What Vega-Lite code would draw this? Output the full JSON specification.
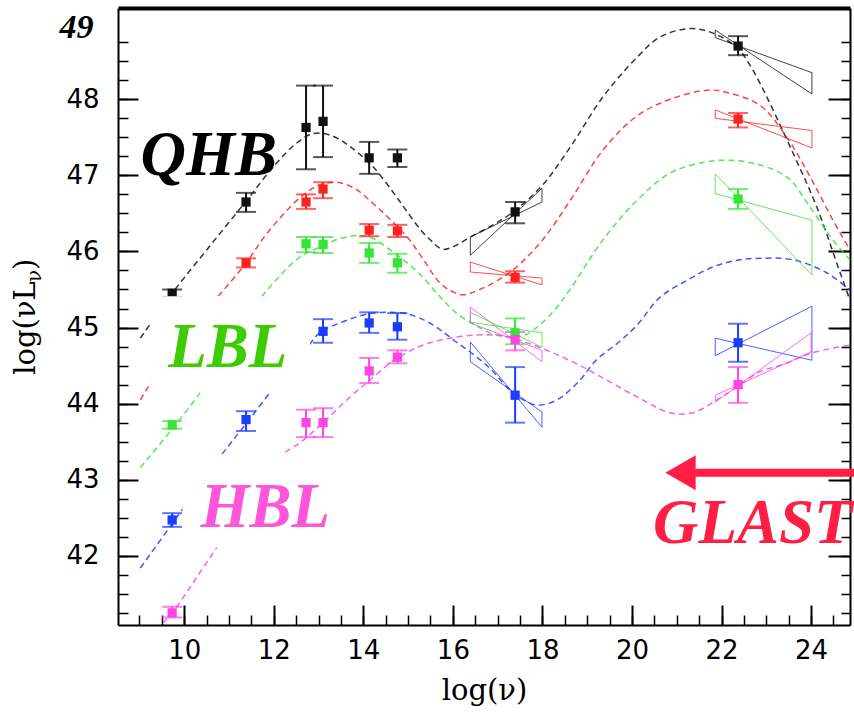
{
  "$schema": "https://vega.github.io/schema/vega-lite/v6.json",
  "width": 732,
  "height": 617,
  "autosize": "none",
  "padding": {"left": 118, "top": 8, "right": 4, "bottom": 87},
  "background": "white",
  "config": {"view": {"stroke": null}, "axis": {"grid": false}},
  "datasets": {
    "curves": [
      {"s": "black", "x": 9.02, "y": 44.86}, {"s": "black", "x": 9.73, "y": 45.45}, {"s": "black", "x": 10.5, "y": 46.02},
      {"s": "black", "x": 11.38, "y": 46.66}, {"s": "black", "x": 12.0, "y": 47.12}, {"s": "black", "x": 12.5, "y": 47.42},
      {"s": "black", "x": 12.88, "y": 47.55}, {"s": "black", "x": 13.3, "y": 47.52}, {"s": "black", "x": 13.7, "y": 47.38},
      {"s": "black", "x": 14.22, "y": 47.11}, {"s": "black", "x": 14.7, "y": 46.75}, {"s": "black", "x": 14.98, "y": 46.52},
      {"s": "black", "x": 15.3, "y": 46.27}, {"s": "black", "x": 15.5, "y": 46.15}, {"s": "black", "x": 15.76, "y": 46.03},
      {"s": "black", "x": 16.0, "y": 46.06}, {"s": "black", "x": 16.39, "y": 46.19}, {"s": "black", "x": 16.9, "y": 46.35},
      {"s": "black", "x": 17.39, "y": 46.54}, {"s": "black", "x": 18.0, "y": 46.87}, {"s": "black", "x": 18.62, "y": 47.37},
      {"s": "black", "x": 19.35, "y": 48.03}, {"s": "black", "x": 20.11, "y": 48.55}, {"s": "black", "x": 20.63, "y": 48.82},
      {"s": "black", "x": 21.3, "y": 48.93}, {"s": "black", "x": 21.81, "y": 48.87}, {"s": "black", "x": 22.37, "y": 48.67},
      {"s": "black", "x": 22.57, "y": 48.51}, {"s": "black", "x": 22.86, "y": 48.21}, {"s": "black", "x": 23.6, "y": 47.29},
      {"s": "black", "x": 24.13, "y": 46.58}, {"s": "black", "x": 24.65, "y": 45.72}, {"s": "black", "x": 24.87, "y": 45.36},

      {"s": "red", "x": 9.02, "y": 44.05}, {"s": "red", "x": 10.0, "y": 44.95}, {"s": "red", "x": 10.74, "y": 45.4},
      {"s": "red", "x": 11.38, "y": 45.85}, {"s": "red", "x": 11.85, "y": 46.24}, {"s": "red", "x": 12.59, "y": 46.71},
      {"s": "red", "x": 13.0, "y": 46.87}, {"s": "red", "x": 13.4, "y": 46.91}, {"s": "red", "x": 13.8, "y": 46.83},
      {"s": "red", "x": 14.22, "y": 46.63}, {"s": "red", "x": 14.6, "y": 46.42}, {"s": "red", "x": 14.98, "y": 46.19},
      {"s": "red", "x": 15.3, "y": 45.93}, {"s": "red", "x": 15.72, "y": 45.58}, {"s": "red", "x": 16.0, "y": 45.47},
      {"s": "red", "x": 16.23, "y": 45.43}, {"s": "red", "x": 16.6, "y": 45.5}, {"s": "red", "x": 17.0, "y": 45.62},
      {"s": "red", "x": 17.39, "y": 45.78}, {"s": "red", "x": 18.0, "y": 46.15}, {"s": "red", "x": 18.62, "y": 46.67},
      {"s": "red", "x": 19.35, "y": 47.33}, {"s": "red", "x": 20.11, "y": 47.78}, {"s": "red", "x": 20.85, "y": 48.0},
      {"s": "red", "x": 21.68, "y": 48.12}, {"s": "red", "x": 22.12, "y": 48.09}, {"s": "red", "x": 22.86, "y": 47.92},
      {"s": "red", "x": 23.46, "y": 47.5}, {"s": "red", "x": 23.98, "y": 46.98}, {"s": "red", "x": 24.49, "y": 46.41},
      {"s": "red", "x": 24.87, "y": 46.02},

      {"s": "green", "x": 9.02, "y": 43.16}, {"s": "green", "x": 10.36, "y": 44.15}, {"s": "green", "x": 11.0, "y": 44.8},
      {"s": "green", "x": 11.85, "y": 45.49}, {"s": "green", "x": 12.59, "y": 45.93}, {"s": "green", "x": 13.04, "y": 46.06},
      {"s": "green", "x": 13.48, "y": 46.17}, {"s": "green", "x": 13.93, "y": 46.21}, {"s": "green", "x": 14.22, "y": 46.17},
      {"s": "green", "x": 14.6, "y": 46.02}, {"s": "green", "x": 14.98, "y": 45.85}, {"s": "green", "x": 15.3, "y": 45.68},
      {"s": "green", "x": 15.72, "y": 45.4}, {"s": "green", "x": 16.1, "y": 45.18}, {"s": "green", "x": 16.45, "y": 45.05},
      {"s": "green", "x": 16.83, "y": 44.93}, {"s": "green", "x": 17.2, "y": 44.88}, {"s": "green", "x": 17.6, "y": 44.9},
      {"s": "green", "x": 17.95, "y": 45.04}, {"s": "green", "x": 18.3, "y": 45.25}, {"s": "green", "x": 18.65, "y": 45.53},
      {"s": "green", "x": 19.35, "y": 46.15}, {"s": "green", "x": 20.11, "y": 46.67}, {"s": "green", "x": 20.85, "y": 47.03},
      {"s": "green", "x": 21.59, "y": 47.17}, {"s": "green", "x": 22.12, "y": 47.2}, {"s": "green", "x": 22.7, "y": 47.16},
      {"s": "green", "x": 23.46, "y": 46.98}, {"s": "green", "x": 23.98, "y": 46.58}, {"s": "green", "x": 24.49, "y": 46.15},
      {"s": "green", "x": 24.87, "y": 45.89},

      {"s": "blue", "x": 9.02, "y": 41.84}, {"s": "blue", "x": 9.9, "y": 42.56}, {"s": "blue", "x": 10.8, "y": 43.3},
      {"s": "blue", "x": 11.4, "y": 43.75}, {"s": "blue", "x": 12.08, "y": 44.27}, {"s": "blue", "x": 12.75, "y": 44.74},
      {"s": "blue", "x": 13.04, "y": 44.94}, {"s": "blue", "x": 13.48, "y": 45.06}, {"s": "blue", "x": 13.9, "y": 45.15},
      {"s": "blue", "x": 14.22, "y": 45.19}, {"s": "blue", "x": 14.6, "y": 45.2}, {"s": "blue", "x": 14.98, "y": 45.18},
      {"s": "blue", "x": 15.35, "y": 45.1}, {"s": "blue", "x": 15.72, "y": 44.97}, {"s": "blue", "x": 16.05, "y": 44.82},
      {"s": "blue", "x": 16.45, "y": 44.65}, {"s": "blue", "x": 16.85, "y": 44.45}, {"s": "blue", "x": 17.2, "y": 44.22},
      {"s": "blue", "x": 17.39, "y": 44.12}, {"s": "blue", "x": 17.6, "y": 44.04}, {"s": "blue", "x": 17.88, "y": 43.98},
      {"s": "blue", "x": 18.33, "y": 44.05}, {"s": "blue", "x": 18.84, "y": 44.31}, {"s": "blue", "x": 19.2, "y": 44.57},
      {"s": "blue", "x": 19.73, "y": 44.82}, {"s": "blue", "x": 20.11, "y": 45.03}, {"s": "blue", "x": 20.63, "y": 45.4},
      {"s": "blue", "x": 21.23, "y": 45.62}, {"s": "blue", "x": 21.74, "y": 45.78}, {"s": "blue", "x": 22.3, "y": 45.88},
      {"s": "blue", "x": 22.86, "y": 45.91}, {"s": "blue", "x": 23.6, "y": 45.89}, {"s": "blue", "x": 24.35, "y": 45.72},
      {"s": "blue", "x": 24.87, "y": 45.49},

      {"s": "magenta", "x": 9.53, "y": 41.12}, {"s": "magenta", "x": 9.73, "y": 41.25}, {"s": "magenta", "x": 10.74, "y": 42.12},
      {"s": "magenta", "x": 11.5, "y": 42.75}, {"s": "magenta", "x": 12.14, "y": 43.3}, {"s": "magenta", "x": 12.66, "y": 43.52},
      {"s": "magenta", "x": 13.1, "y": 43.75}, {"s": "magenta", "x": 13.71, "y": 44.09}, {"s": "magenta", "x": 14.15, "y": 44.31},
      {"s": "magenta", "x": 14.76, "y": 44.6}, {"s": "magenta", "x": 15.49, "y": 44.8}, {"s": "magenta", "x": 16.5, "y": 44.9},
      {"s": "magenta", "x": 17.21, "y": 44.88}, {"s": "magenta", "x": 17.66, "y": 44.8}, {"s": "magenta", "x": 18.3, "y": 44.65},
      {"s": "magenta", "x": 18.84, "y": 44.5}, {"s": "magenta", "x": 19.22, "y": 44.38}, {"s": "magenta", "x": 20.11, "y": 44.09},
      {"s": "magenta", "x": 20.85, "y": 43.88}, {"s": "magenta", "x": 21.36, "y": 43.88}, {"s": "magenta", "x": 21.9, "y": 44.05},
      {"s": "magenta", "x": 22.35, "y": 44.22}, {"s": "magenta", "x": 22.86, "y": 44.42}, {"s": "magenta", "x": 23.46, "y": 44.53},
      {"s": "magenta", "x": 23.98, "y": 44.66}, {"s": "magenta", "x": 24.87, "y": 44.77}
    ],
    "bowties": [
      {"s": "black", "id": "black-x", "k": 0, "x": 16.39, "y": 45.95}, {"s": "black", "id": "black-x", "k": 1, "x": 17.99, "y": 46.83},
      {"s": "black", "id": "black-x", "k": 2, "x": 17.99, "y": 46.65}, {"s": "black", "id": "black-x", "k": 3, "x": 16.39, "y": 46.19},
      {"s": "black", "id": "black-x", "k": 4, "x": 16.39, "y": 45.95},
      {"s": "red", "id": "red-x", "k": 0, "x": 16.39, "y": 45.86}, {"s": "red", "id": "red-x", "k": 1, "x": 17.99, "y": 45.56},
      {"s": "red", "id": "red-x", "k": 2, "x": 17.99, "y": 45.65}, {"s": "red", "id": "red-x", "k": 3, "x": 16.39, "y": 45.73},
      {"s": "red", "id": "red-x", "k": 4, "x": 16.39, "y": 45.86},
      {"s": "green", "id": "green-x", "k": 0, "x": 16.39, "y": 45.2}, {"s": "green", "id": "green-x", "k": 1, "x": 17.99, "y": 44.74},
      {"s": "green", "id": "green-x", "k": 2, "x": 17.99, "y": 44.93}, {"s": "green", "id": "green-x", "k": 3, "x": 16.39, "y": 45.07},
      {"s": "green", "id": "green-x", "k": 4, "x": 16.39, "y": 45.2},
      {"s": "magenta", "id": "magenta-x", "k": 0, "x": 16.39, "y": 45.27}, {"s": "magenta", "id": "magenta-x", "k": 1, "x": 17.99, "y": 44.55},
      {"s": "magenta", "id": "magenta-x", "k": 2, "x": 17.99, "y": 44.7}, {"s": "magenta", "id": "magenta-x", "k": 3, "x": 16.39, "y": 45.06},
      {"s": "magenta", "id": "magenta-x", "k": 4, "x": 16.39, "y": 45.27},
      {"s": "blue", "id": "blue-x", "k": 0, "x": 16.39, "y": 44.81}, {"s": "blue", "id": "blue-x", "k": 1, "x": 17.99, "y": 43.69},
      {"s": "blue", "id": "blue-x", "k": 2, "x": 17.99, "y": 43.89}, {"s": "blue", "id": "blue-x", "k": 3, "x": 16.39, "y": 44.55},
      {"s": "blue", "id": "blue-x", "k": 4, "x": 16.39, "y": 44.81},
      {"s": "black", "id": "black-g", "k": 0, "x": 21.86, "y": 48.91}, {"s": "black", "id": "black-g", "k": 1, "x": 24.02, "y": 48.07},
      {"s": "black", "id": "black-g", "k": 2, "x": 24.02, "y": 48.35}, {"s": "black", "id": "black-g", "k": 3, "x": 21.86, "y": 48.81},
      {"s": "black", "id": "black-g", "k": 4, "x": 21.86, "y": 48.91},
      {"s": "red", "id": "red-g", "k": 0, "x": 21.86, "y": 47.86}, {"s": "red", "id": "red-g", "k": 1, "x": 24.02, "y": 47.36},
      {"s": "red", "id": "red-g", "k": 2, "x": 24.02, "y": 47.59}, {"s": "red", "id": "red-g", "k": 3, "x": 21.86, "y": 47.75},
      {"s": "red", "id": "red-g", "k": 4, "x": 21.86, "y": 47.86},
      {"s": "green", "id": "green-g", "k": 0, "x": 21.86, "y": 47.02}, {"s": "green", "id": "green-g", "k": 1, "x": 24.02, "y": 45.69},
      {"s": "green", "id": "green-g", "k": 2, "x": 24.02, "y": 46.41}, {"s": "green", "id": "green-g", "k": 3, "x": 21.86, "y": 46.76},
      {"s": "green", "id": "green-g", "k": 4, "x": 21.86, "y": 47.02},
      {"s": "blue", "id": "blue-g", "k": 0, "x": 21.86, "y": 44.63}, {"s": "blue", "id": "blue-g", "k": 1, "x": 24.02, "y": 45.28},
      {"s": "blue", "id": "blue-g", "k": 2, "x": 24.02, "y": 44.57}, {"s": "blue", "id": "blue-g", "k": 3, "x": 21.86, "y": 44.86},
      {"s": "blue", "id": "blue-g", "k": 4, "x": 21.86, "y": 44.63},
      {"s": "magenta", "id": "magenta-g", "k": 0, "x": 21.86, "y": 44.02}, {"s": "magenta", "id": "magenta-g", "k": 1, "x": 24.0, "y": 44.93},
      {"s": "magenta", "id": "magenta-g", "k": 2, "x": 24.0, "y": 44.68}, {"s": "magenta", "id": "magenta-g", "k": 3, "x": 21.86, "y": 44.11},
      {"s": "magenta", "id": "magenta-g", "k": 4, "x": 21.86, "y": 44.02}
    ],
    "points": [
      {"s": "black", "x": 9.73, "y": 45.45, "lo": 45.4, "hi": 45.5},
      {"s": "black", "x": 11.38, "y": 46.65, "lo": 46.52, "hi": 46.77},
      {"s": "black", "x": 12.72, "y": 47.63, "lo": 47.08, "hi": 48.18},
      {"s": "black", "x": 13.1, "y": 47.71, "lo": 47.24, "hi": 48.18},
      {"s": "black", "x": 14.13, "y": 47.23, "lo": 47.02, "hi": 47.44},
      {"s": "black", "x": 14.76, "y": 47.23, "lo": 47.11, "hi": 47.34},
      {"s": "black", "x": 17.39, "y": 46.52, "lo": 46.37, "hi": 46.65},
      {"s": "black", "x": 22.37, "y": 48.7, "lo": 48.58, "hi": 48.83},
      {"s": "red", "x": 11.38, "y": 45.85, "lo": 45.79, "hi": 45.91},
      {"s": "red", "x": 12.72, "y": 46.65, "lo": 46.56, "hi": 46.75},
      {"s": "red", "x": 13.1, "y": 46.82, "lo": 46.7, "hi": 46.91},
      {"s": "red", "x": 14.13, "y": 46.28, "lo": 46.2, "hi": 46.36},
      {"s": "red", "x": 14.76, "y": 46.27, "lo": 46.19, "hi": 46.35},
      {"s": "red", "x": 17.39, "y": 45.66, "lo": 45.59, "hi": 45.74},
      {"s": "red", "x": 22.37, "y": 47.74, "lo": 47.63, "hi": 47.82},
      {"s": "green", "x": 9.73, "y": 43.72, "lo": 43.67, "hi": 43.77},
      {"s": "green", "x": 12.72, "y": 46.1, "lo": 45.99, "hi": 46.19},
      {"s": "green", "x": 13.1, "y": 46.09, "lo": 45.98, "hi": 46.19},
      {"s": "green", "x": 14.13, "y": 45.98, "lo": 45.85, "hi": 46.11},
      {"s": "green", "x": 14.76, "y": 45.85, "lo": 45.72, "hi": 45.97},
      {"s": "green", "x": 17.39, "y": 44.93, "lo": 44.78, "hi": 45.12},
      {"s": "green", "x": 22.37, "y": 46.69, "lo": 46.56, "hi": 46.82},
      {"s": "blue", "x": 9.73, "y": 42.47, "lo": 42.38, "hi": 42.56},
      {"s": "blue", "x": 11.38, "y": 43.79, "lo": 43.64, "hi": 43.9},
      {"s": "blue", "x": 13.1, "y": 44.95, "lo": 44.8, "hi": 45.11},
      {"s": "blue", "x": 14.13, "y": 45.06, "lo": 44.93, "hi": 45.2},
      {"s": "blue", "x": 14.76, "y": 45.01, "lo": 44.84, "hi": 45.19},
      {"s": "blue", "x": 17.39, "y": 44.11, "lo": 43.75, "hi": 44.48},
      {"s": "blue", "x": 22.37, "y": 44.8, "lo": 44.55, "hi": 45.05},
      {"s": "magenta", "x": 9.73, "y": 41.25, "lo": 41.19, "hi": 41.33},
      {"s": "magenta", "x": 12.72, "y": 43.75, "lo": 43.56, "hi": 43.92},
      {"s": "magenta", "x": 13.1, "y": 43.75, "lo": 43.56, "hi": 43.94},
      {"s": "magenta", "x": 14.13, "y": 44.43, "lo": 44.27, "hi": 44.6},
      {"s": "magenta", "x": 14.76, "y": 44.61, "lo": 44.53, "hi": 44.7},
      {"s": "magenta", "x": 17.39, "y": 44.84, "lo": 44.7, "hi": 44.94},
      {"s": "magenta", "x": 22.37, "y": 44.25, "lo": 44.01, "hi": 44.48}
    ]
  },
  "resolve": {"axis": {"x": "independent", "y": "independent"}},
  "layer": [
    {
      "data": {"name": "curves"},
      "mark": {"type": "line", "interpolate": "catmull-rom", "strokeWidth": 1.5, "strokeDash": [6, 4], "opacity": 0.85},
      "encoding": {
        "x": {"field": "x", "type": "quantitative",
          "scale": {"domain": [8.52, 24.87], "nice": false, "zero": false},
          "axis": {"orient": "bottom", "values": [10, 12, 14, 16, 18, 20, 22, 24], "ticks": false, "domain": true,
            "domainColor": "black", "domainWidth": 2, "labelFont": "DejaVu Sans", "labelFontSize": 26, "labelColor": "black",
            "labelPadding": 12, "title": "log(ν)", "titleFont": "DejaVu Serif", "titleFontSize": 29, "titleFontWeight": "normal",
            "titleColor": "black", "titlePadding": 13}},
        "y": {"field": "y", "type": "quantitative",
          "scale": {"domain": [41.09, 49.2], "nice": false, "zero": false},
          "axis": {"orient": "left", "values": [42, 43, 44, 45, 46, 47, 48], "ticks": false, "domain": true,
            "domainColor": "black", "domainWidth": 2, "labelFont": "DejaVu Sans", "labelFontSize": 26, "labelColor": "black",
            "labelPadding": 19, "title": null}},
        "detail": {"field": "s"},
        "color": {"field": "s", "type": "nominal", "legend": null,
          "scale": {"domain": ["black", "red", "green", "blue", "magenta", "QHB", "LBL", "HBL", "GLAST"],
            "range": ["#111111", "#ff2020", "#33e633", "#1a3cff", "#ff44e6", "#000000", "#3ccc00", "#ff55d8", "#ff1f45"]}}
      }
    },
    {
      "data": {"name": "bowties"},
      "mark": {"type": "line", "strokeWidth": 1, "opacity": 0.8},
      "encoding": {
        "x": {"field": "x", "type": "quantitative",
          "axis": {"orient": "bottom", "values": [10, 12, 14, 16, 18, 20, 22, 24], "ticks": true, "tickSize": -20, "tickWidth": 2,
            "tickColor": "black", "labels": false, "domain": false, "title": null}},
        "y": {"field": "y", "type": "quantitative",
          "axis": {"orient": "left", "values": [42, 43, 44, 45, 46, 47, 48], "ticks": true, "tickSize": -20, "tickWidth": 2,
            "tickColor": "black", "labels": false, "domain": false, "title": null}},
        "detail": {"field": "id"},
        "order": {"field": "k", "type": "quantitative"},
        "color": {"field": "s", "type": "nominal", "legend": null}
      }
    },
    {
      "data": {"name": "points"},
      "mark": {"type": "rule", "strokeWidth": 2},
      "encoding": {
        "x": {"field": "x", "type": "quantitative",
          "axis": {"orient": "bottom", "values": [9, 9.5, 10, 10.5, 11, 11.5, 12, 12.5, 13, 13.5, 14, 14.5, 15, 15.5, 16, 16.5, 17, 17.5, 18, 18.5, 19, 19.5, 20, 20.5, 21, 21.5, 22, 22.5, 23, 23.5, 24, 24.5],
            "ticks": true, "tickSize": -10, "tickWidth": 1.5, "tickColor": "black", "labels": false, "domain": false, "title": null}},
        "y": {"field": "lo", "type": "quantitative",
          "axis": {"orient": "left", "values": [41.25, 41.5, 41.75, 42, 42.25, 42.5, 42.75, 43, 43.25, 43.5, 43.75, 44, 44.25, 44.5, 44.75, 45, 45.25, 45.5, 45.75, 46, 46.25, 46.5, 46.75, 47, 47.25, 47.5, 47.75, 48, 48.25, 48.5, 48.75],
            "ticks": true, "tickSize": -10, "tickWidth": 1.5, "tickColor": "black", "labels": false, "domain": false, "title": null}},
        "y2": {"field": "hi"},
        "color": {"field": "s", "type": "nominal", "legend": null}
      }
    },
    {
      "data": {"name": "points"},
      "mark": {"type": "tick", "orient": "horizontal", "size": 20, "thickness": 2},
      "encoding": {
        "x": {"field": "x", "type": "quantitative",
          "axis": {"orient": "top", "ticks": false, "labels": false, "domain": true, "domainColor": "black", "domainWidth": 4, "title": null}},
        "y": {"field": "lo", "type": "quantitative",
          "axis": {"orient": "right", "values": [42, 43, 44, 45, 46, 47, 48], "ticks": true, "tickSize": -22, "tickWidth": 2,
            "tickColor": "black", "labels": false, "domain": true, "domainColor": "black", "domainWidth": 2, "title": null}},
        "color": {"field": "s", "type": "nominal", "legend": null}
      }
    },
    {
      "data": {"name": "points"},
      "mark": {"type": "tick", "orient": "horizontal", "size": 20, "thickness": 2},
      "encoding": {
        "x": {"field": "x", "type": "quantitative", "axis": null},
        "y": {"field": "hi", "type": "quantitative",
          "axis": {"orient": "right", "values": [41.25, 41.5, 41.75, 42, 42.25, 42.5, 42.75, 43, 43.25, 43.5, 43.75, 44, 44.25, 44.5, 44.75, 45, 45.25, 45.5, 45.75, 46, 46.25, 46.5, 46.75, 47, 47.25, 47.5, 47.75, 48, 48.25, 48.5, 48.75],
            "ticks": true, "tickSize": -9, "tickWidth": 1.5, "tickColor": "black", "labels": false, "domain": false, "title": null}},
        "color": {"field": "s", "type": "nominal", "legend": null}
      }
    },
    {
      "data": {"name": "points"},
      "mark": {"type": "square", "size": 85, "opacity": 1, "filled": true},
      "encoding": {
        "x": {"field": "x", "type": "quantitative", "axis": null},
        "y": {"field": "y", "type": "quantitative", "axis": null},
        "color": {"field": "s", "type": "nominal", "legend": null}
      }
    },
    {
      "data": {"values": [
        {"box": "LBL", "x": 9.24, "x2": 12.81, "y": 45.41, "y2": 44.15},
        {"box": "HBL", "x": 9.96, "x2": 13.82, "y": 43.33, "y2": 42.11}
      ]},
      "mark": {"type": "rect", "fill": "white"},
      "encoding": {
        "x": {"field": "x", "type": "quantitative", "axis": null},
        "x2": {"field": "x2"},
        "y": {"field": "y", "type": "quantitative", "axis": null},
        "y2": {"field": "y2"}
      }
    },
    {
      "data": {"values": [
        {"label": "QHB", "x": 9.02, "y": 47.0},
        {"label": "LBL", "x": 9.64, "y": 44.48},
        {"label": "HBL", "x": 10.36, "y": 42.38},
        {"label": "GLAST", "x": 20.47, "y": 42.17}
      ]},
      "mark": {"type": "text", "font": "Liberation Serif", "fontSize": 63, "fontWeight": "bold", "fontStyle": "italic",
        "align": "left", "baseline": "alphabetic"},
      "encoding": {
        "x": {"field": "x", "type": "quantitative", "axis": null},
        "y": {"field": "y", "type": "quantitative", "axis": null},
        "text": {"field": "label"},
        "color": {"field": "label", "type": "nominal", "legend": null}
      }
    },
    {
      "data": {"values": [{"x": 21.41, "x2": 24.97, "y": 43.09}]},
      "mark": {"type": "rule", "color": "#ff1f45", "strokeWidth": 8, "clip": false},
      "encoding": {
        "x": {"field": "x", "type": "quantitative", "axis": null},
        "x2": {"field": "x2"},
        "y": {"field": "y", "type": "quantitative", "axis": null}
      }
    },
    {
      "data": {"values": [{"x": 21.085, "y": 43.09}]},
      "mark": {"type": "point", "shape": "triangle-left", "filled": true, "size": 1225, "color": "#ff1f45", "opacity": 1},
      "encoding": {
        "x": {"field": "x", "type": "quantitative", "axis": null},
        "y": {"field": "y", "type": "quantitative", "axis": null}
      }
    },
    {
      "data": {"values": [{"t": "49", "x": 7.97, "y": 48.8}]},
      "mark": {"type": "text", "font": "Liberation Serif", "fontSize": 34, "fontWeight": "bold", "fontStyle": "italic",
        "align": "right", "baseline": "alphabetic", "color": "black"},
      "encoding": {
        "x": {"field": "x", "type": "quantitative", "axis": null},
        "y": {"field": "y", "type": "quantitative", "axis": null},
        "text": {"field": "t"}
      }
    },
    {
      "data": {"values": [{"t": "log(νL", "x": 6.67, "y": 44.38}, {"t": ")", "x": 6.67, "y": 45.755}]},
      "mark": {"type": "text", "font": "DejaVu Serif", "fontSize": 29, "angle": 270, "align": "left", "baseline": "alphabetic", "color": "black"},
      "encoding": {
        "x": {"field": "x", "type": "quantitative", "axis": null},
        "y": {"field": "y", "type": "quantitative", "axis": null},
        "text": {"field": "t"}
      }
    },
    {
      "data": {"values": [{"t": "ν", "x": 6.81, "y": 45.6}]},
      "mark": {"type": "text", "font": "DejaVu Serif", "fontSize": 20, "angle": 270, "align": "left", "baseline": "alphabetic", "color": "black"},
      "encoding": {
        "x": {"field": "x", "type": "quantitative", "axis": null},
        "y": {"field": "y", "type": "quantitative", "axis": null},
        "text": {"field": "t"}
      }
    }
  ]
}
